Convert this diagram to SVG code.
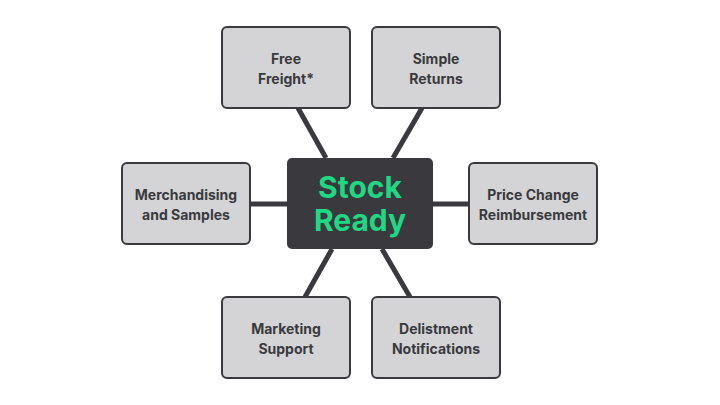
<svg xmlns="http://www.w3.org/2000/svg" width="720" height="405" viewBox="0 0 720 405">
<style>
.box{fill:#d4d4d6;stroke:#3a3a3e;stroke-width:2}
.lbl{font-family:Inter,"Liberation Sans",sans-serif;font-weight:700;font-size:14px;fill:#3a3a3e;text-anchor:middle}
.conn{stroke:#3a3a3e;stroke-width:5;stroke-linecap:butt}
.ctr{font-family:Inter,"Liberation Sans",sans-serif;font-weight:700;font-size:30px;fill:#1ed883;text-anchor:middle}
</style>
<rect width="720" height="405" fill="#ffffff"/>
<g id="connectors">
<line class="conn" x1="298" y1="108" x2="326" y2="158"/>
<line class="conn" x1="422" y1="108" x2="393" y2="158"/>
<line class="conn" x1="250" y1="204" x2="287" y2="204"/>
<line class="conn" x1="433" y1="204" x2="469" y2="204"/>
<line class="conn" x1="332" y1="249" x2="305" y2="297"/>
<line class="conn" x1="382" y1="249" x2="410" y2="297"/>
</g>
<g id="center">
<rect x="287" y="158" width="146" height="91" rx="5" fill="#3a3a3e"/>
<text class="ctr" x="360" y="198">Stock</text>
<text class="ctr" x="360" y="231">Ready</text>
</g>
<g id="free-freight">
<rect class="box" x="222" y="27" width="128" height="81" rx="5"/>
<text class="lbl" x="286" y="64">Free</text>
<text class="lbl" x="286" y="84">Freight*</text>
</g>
<g id="simple-returns">
<rect class="box" x="372" y="27" width="128" height="81" rx="5"/>
<text class="lbl" x="436" y="64">Simple</text>
<text class="lbl" x="436" y="84">Returns</text>
</g>
<g id="merchandising">
<rect class="box" x="122" y="163" width="128" height="81" rx="5"/>
<text class="lbl" x="186" y="200">Merchandising</text>
<text class="lbl" x="186" y="220">and Samples</text>
</g>
<g id="price-change">
<rect class="box" x="469" y="163" width="128" height="81" rx="5"/>
<text class="lbl" x="533" y="200">Price Change</text>
<text class="lbl" x="533" y="220">Reimbursement</text>
</g>
<g id="marketing">
<rect class="box" x="222" y="297" width="128" height="81" rx="5"/>
<text class="lbl" x="286" y="334">Marketing</text>
<text class="lbl" x="286" y="354">Support</text>
</g>
<g id="delistment">
<rect class="box" x="372" y="297" width="128" height="81" rx="5"/>
<text class="lbl" x="436" y="334">Delistment</text>
<text class="lbl" x="436" y="354">Notifications</text>
</g>
</svg>
